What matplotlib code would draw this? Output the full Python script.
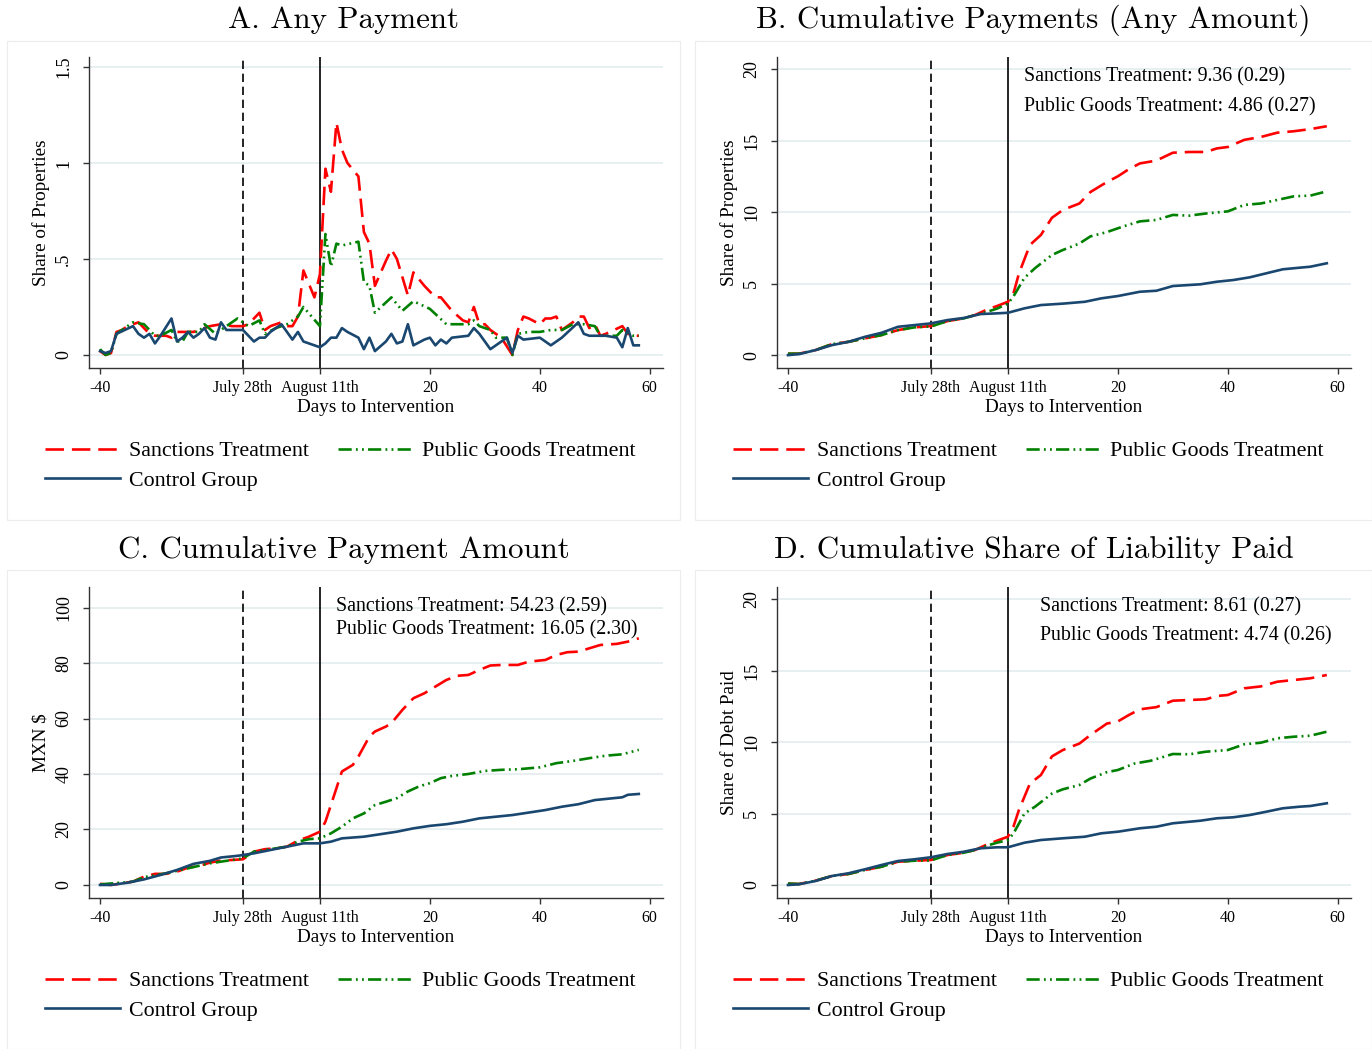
import matplotlib
matplotlib.use('Agg')
import matplotlib.pyplot as plt
from matplotlib.patches import Rectangle

plt.rcParams['font.family'] = ['Liberation Serif', 'DejaVu Serif']

# ---------------- data ----------------
# A. Any Payment
a_sanc_days = [-40, -39, -38, -37, -36, -35, -34, -33, -31, -30, -28, -27, -26, -23, -21, -20, -18, -16, -14, -13,
               -11, -10, -9, -7, -6, -5, -4, -3, -1, 0, 1, 2, 3, 4, 5, 7, 8, 9, 10, 12, 13, 14, 16, 17, 19, 21,
               22, 24, 26, 27, 28, 29, 30, 31, 33, 35, 36, 37, 38, 40, 41, 42, 43, 44, 46, 47, 48, 49, 50, 51,
               52, 55, 56, 57, 58]
a_sanc = [0.02, 0.0, 0.01, 0.12, 0.13, 0.15, 0.16, 0.17, 0.11, 0.10, 0.10, 0.09, 0.12, 0.12, 0.14, 0.15, 0.16,
          0.15, 0.15, 0.16, 0.22, 0.13, 0.15, 0.17, 0.15, 0.15, 0.20, 0.44, 0.30, 0.42, 0.97, 0.85, 1.21, 1.07,
          1.00, 0.93, 0.64, 0.58, 0.36, 0.49, 0.55, 0.50, 0.31, 0.43, 0.36, 0.30, 0.30, 0.23, 0.18, 0.17, 0.25,
          0.16, 0.16, 0.13, 0.09, 0.0, 0.13, 0.20, 0.19, 0.16, 0.19, 0.19, 0.20, 0.13, 0.17, 0.20, 0.20, 0.14,
          0.16, 0.10, 0.11, 0.15, 0.11, 0.10, 0.10]
a_pub_days = [-40, -39, -38, -37, -35, -34, -32, -30, -29, -27, -26, -25, -24, -22, -21, -19, -18, -17, -15, -13,
              -11, -10, -8, -6, -4, -3, 0, 1, 2, 3, 4, 7, 8, 9, 10, 13, 15, 17, 20, 23, 25, 27, 28, 29, 30, 31,
              32, 34, 35, 36, 38, 40, 42, 44, 46, 48, 50, 51, 54, 55, 57, 58]
a_pub = [0.03, 0.0, 0.01, 0.11, 0.15, 0.17, 0.16, 0.10, 0.10, 0.13, 0.07, 0.07, 0.12, 0.12, 0.16, 0.11, 0.13,
         0.15, 0.19, 0.15, 0.18, 0.11, 0.14, 0.16, 0.20, 0.25, 0.15, 0.63, 0.46, 0.58, 0.57, 0.59, 0.38, 0.36,
         0.22, 0.30, 0.23, 0.28, 0.24, 0.16, 0.16, 0.16, 0.18, 0.15, 0.14, 0.13, 0.09, 0.09, 0.0, 0.11, 0.12,
         0.12, 0.13, 0.13, 0.16, 0.16, 0.15, 0.10, 0.10, 0.13, 0.10, 0.10]
a_ctrl_days = [-40, -39, -38, -37, -34, -33, -32, -31, -30, -29, -27, -26, -25, -24, -23, -22, -21, -20, -19, -18,
               -17, -14, -13, -12, -11, -10, -9, -7, -6, -5, -4, -3, 0, 1, 2, 3, 4, 5, 7, 8, 9, 10, 12, 13, 14,
               15, 16, 17, 19, 20, 21, 22, 23, 24, 27, 28, 29, 31, 34, 35, 36, 37, 40, 42, 44, 47, 48, 49, 52, 54,
               55, 56, 57, 58]
a_ctrl = [0.02, 0.01, 0.02, 0.11, 0.15, 0.11, 0.09, 0.11, 0.06, 0.10, 0.19, 0.07, 0.09, 0.12, 0.09, 0.11, 0.14,
          0.09, 0.08, 0.17, 0.13, 0.13, 0.10, 0.07, 0.09, 0.09, 0.12, 0.16, 0.12, 0.08, 0.12, 0.07, 0.04, 0.06,
          0.09, 0.09, 0.14, 0.12, 0.09, 0.03, 0.09, 0.02, 0.07, 0.11, 0.06, 0.07, 0.16, 0.05, 0.08, 0.09, 0.05,
          0.08, 0.06, 0.09, 0.10, 0.14, 0.11, 0.03, 0.09, 0.01, 0.10, 0.08, 0.09, 0.05, 0.09, 0.17, 0.11, 0.10,
          0.10, 0.09, 0.04, 0.14, 0.05, 0.05]

# B. Cumulative Payments (Any Amount)
b_sanc_days = [-40, -38, -35, -32, -29, -26, -23, -20, -17, -14, -11, -8, -6, -4, -2, 0, 1, 2, 4, 6, 8, 10, 13,
               15, 18, 20, 22, 24, 27, 30, 33, 36, 38, 40, 43, 46, 49, 52, 55, 58]
b_sanc = [0.1, 0.1, 0.35, 0.77, 0.93, 1.17, 1.4, 1.75, 1.94, 2.03, 2.38, 2.57, 2.8, 3.15, 3.43, 3.73, 4.3, 5.7,
          7.7, 8.4, 9.6, 10.15, 10.6, 11.4, 12.1, 12.5, 13.0, 13.4, 13.6, 14.15, 14.2, 14.2, 14.45, 14.55, 15.05,
          15.25, 15.55, 15.65, 15.8, 16.0]
b_pub_days = [-40, -38, -35, -32, -29, -26, -23, -20, -17, -14, -11, -8, -6, -4, -2, 0, 1, 3, 5, 8, 10, 13, 15,
              18, 21, 24, 27, 30, 33, 36, 40, 43, 46, 49, 52, 55, 58]
b_pub = [0.1, 0.1, 0.35, 0.77, 0.93, 1.17, 1.4, 1.75, 1.94, 2.0, 2.38, 2.57, 2.8, 3.0, 3.25, 3.6, 4.1, 5.4, 6.1,
         7.0, 7.35, 7.8, 8.3, 8.6, 9.0, 9.35, 9.45, 9.8, 9.75, 9.9, 10.05, 10.5, 10.6, 10.85, 11.1, 11.15, 11.45]
b_ctrl_days = [-40, -38, -35, -32, -29, -26, -23, -20, -17, -14, -11, -8, -5, -2, 0, 3, 6, 10, 14, 17, 20, 24,
               27, 30, 35, 38, 41, 44, 47, 50, 53, 55, 58]
b_ctrl = [0.0, 0.07, 0.35, 0.7, 0.93, 1.28, 1.56, 1.98, 2.1, 2.22, 2.45, 2.6, 2.87, 2.92, 2.96, 3.27, 3.5, 3.6,
          3.73, 3.97, 4.13, 4.43, 4.5, 4.83, 4.95, 5.13, 5.25, 5.44, 5.72, 6.0, 6.11, 6.18, 6.42]

# C. Cumulative Payment Amount
c_sanc_days = [-40, -38, -36, -34, -32, -30, -28, -26, -24, -22, -20, -18, -16, -14, -12, -10, -8, -6, -4, -2,
               0, 1, 2, 4, 6, 7, 9, 10, 12, 13, 15, 17, 19, 21, 23, 25, 27, 29, 31, 33, 36, 38, 41, 43, 45, 47,
               49, 51, 54, 56, 58]
c_sanc = [0.4, 0.0, 0.6, 1.2, 3.0, 4.0, 4.0, 4.8, 6.25, 6.85, 8.05, 8.8, 9.0, 9.25, 12.0, 12.9, 13.2, 13.8, 16.0,
          17.4, 19.2, 22.8, 28.8, 40.9, 43.3, 46.3, 53.5, 55.3, 57.1, 58.3, 63.1, 67.3, 69.1, 71.5, 73.9, 75.4,
          75.7, 77.5, 79.1, 79.3, 79.3, 80.5, 81.1, 82.9, 83.9, 84.1, 85.3, 86.5, 86.9, 87.7, 88.9]
c_pub_days = [-40, -34, -32, -28, -24, -20, -16, -14, -12, -8, -6, -4, -2, 0, 2, 4, 6, 8, 10, 12, 14, 16, 18,
              20, 22, 24, 27, 30, 33, 36, 40, 43, 46, 49, 52, 55, 58]
c_pub = [0.2, 1.2, 2.8, 4.2, 6.0, 7.8, 9.0, 9.6, 12.0, 13.2, 13.8, 15.6, 16.5, 16.8, 18.6, 21.0, 24.0, 25.8,
         28.8, 30.0, 31.3, 33.7, 35.5, 36.7, 38.5, 39.3, 40.0, 41.1, 41.5, 41.7, 42.4, 43.9, 44.7, 45.7, 46.6,
         47.1, 48.7]
c_ctrl_days = [-40, -38, -35, -32, -29, -26, -23, -20, -18, -15, -12, -9, -6, -3, 0, 2, 4, 8, 10, 14, 17, 20,
               23, 26, 29, 32, 35, 38, 41, 44, 47, 50, 53, 55, 56, 58]
c_ctrl = [0.0, 0.0, 0.8, 2.0, 3.6, 5.4, 7.6, 8.7, 9.9, 10.5, 11.4, 12.6, 13.8, 15.0, 15.0, 15.6, 16.8, 17.4,
          18.0, 19.2, 20.4, 21.3, 21.9, 22.8, 24.0, 24.6, 25.2, 26.1, 27.0, 28.2, 29.1, 30.6, 31.2, 31.6, 32.5,
          32.8]

# D. Cumulative Share of Liability Paid
d_sanc_days = [-40, -38, -35, -32, -29, -26, -23, -20, -17, -14, -11, -8, -6, -4, -2, 0, 1, 2, 4, 6, 8, 10, 13,
               15, 18, 20, 22, 24, 27, 30, 33, 36, 38, 40, 43, 46, 49, 52, 55, 58]
d_sanc = [0.1, 0.07, 0.3, 0.63, 0.77, 1.05, 1.28, 1.63, 1.7, 1.75, 2.1, 2.26, 2.45, 2.8, 3.1, 3.38, 4.08, 5.25,
          7.1, 7.7, 9.0, 9.45, 9.9, 10.5, 11.3, 11.45, 11.9, 12.3, 12.45, 12.9, 12.95, 13.0, 13.23, 13.3, 13.77,
          13.9, 14.23, 14.35, 14.47, 14.7]
d_pub_days = [-40, -38, -35, -32, -29, -26, -23, -20, -17, -14, -11, -8, -6, -4, -2, 0, 1, 3, 5, 8, 10, 13, 15,
              18, 20, 23, 26, 30, 33, 36, 40, 43, 46, 49, 52, 55, 58]
d_pub = [0.1, 0.07, 0.3, 0.63, 0.77, 1.05, 1.28, 1.63, 1.7, 1.72, 2.1, 2.26, 2.45, 2.73, 2.96, 3.15, 3.6, 5.0,
         5.5, 6.4, 6.7, 7.0, 7.45, 7.9, 8.05, 8.5, 8.7, 9.17, 9.15, 9.33, 9.45, 9.85, 9.96, 10.27, 10.38, 10.45,
         10.73]
d_ctrl_days = [-40, -38, -35, -32, -29, -26, -23, -20, -17, -14, -11, -8, -5, -2, 0, 3, 6, 10, 14, 17, 20, 24,
               27, 30, 35, 38, 41, 44, 47, 50, 53, 55, 58]
d_ctrl = [0.0, 0.05, 0.28, 0.63, 0.82, 1.1, 1.4, 1.68, 1.8, 1.94, 2.17, 2.33, 2.57, 2.64, 2.64, 2.96, 3.15, 3.27,
          3.38, 3.62, 3.73, 3.97, 4.08, 4.32, 4.5, 4.67, 4.74, 4.9, 5.13, 5.37, 5.48, 5.53, 5.72]

titles = ['A. Any Payment', 'B. Cumulative Payments (Any Amount)',
          'C. Cumulative Payment Amount', 'D. Cumulative Share of Liability Paid']
ylabels = ['Share of Properties', 'Share of Properties', 'MXN \\$', 'Share of Debt Paid']
yticks = [[0, 0.5, 1, 1.5], [0, 5, 10, 15, 20], [0, 20, 40, 60, 80, 100], [0, 5, 10, 15, 20]]
yticklabels = [['0', '.5', '1', '1.5'], ['0', '5', '10', '15', '20'],
               ['0', '20', '40', '60', '80', '100'], ['0', '5', '10', '15', '20']]
ylims = [(-0.068, 1.552), (-0.9, 20.84), (-4.7, 107.4), (-0.91, 20.86)]
xticks = [-40, -14, 0, 20, 40, 60]
xticklabels = ['-40', 'July 28th', 'August 11th', '20', '40', '60']
notes = [None,
         ['Sanctions Treatment: 9.36 (0.29)', 'Public Goods Treatment: 4.86 (0.27)'],
         ['Sanctions Treatment: 54.23 (2.59)', 'Public Goods Treatment: 16.05 (2.30)'],
         ['Sanctions Treatment: 8.61 (0.27)', 'Public Goods Treatment: 4.74 (0.26)']]
note_pos = [None, (0.430, 0.935, 0.839), (0.430, 0.935, 0.861), (0.458, 0.935, 0.842)]

series = [
    [(a_sanc_days, a_sanc), (a_pub_days, a_pub), (a_ctrl_days, a_ctrl)],
    [(b_sanc_days, b_sanc), (b_pub_days, b_pub), (b_ctrl_days, b_ctrl)],
    [(c_sanc_days, c_sanc), (c_pub_days, c_pub), (c_ctrl_days, c_ctrl)],
    [(d_sanc_days, d_sanc), (d_pub_days, d_pub), (d_ctrl_days, d_ctrl)],
]

RED = '#ff0000'
GREEN = '#008000'
NAVY = '#1a476f'
styles = [dict(color=RED, lw=1.9, dashes=(7, 3)),
          dict(color=GREEN, lw=1.9, dashes=(5, 1.6, 0.7, 1.6, 0.7, 1.6)),
          dict(color=NAVY, lw=1.9, ls='-')]
names = ['Sanctions Treatment', 'Public Goods Treatment', 'Control Group']

W, H = 1372, 1049
fig = plt.figure(figsize=(W / 100, H / 100), dpi=100)

# panel positions in pixels: axes left/top, panel box, legend anchor
ax_px = [(89, 57), (777, 57), (89, 587), (777, 587)]
box_px = [(7, 41, 673, 479), (695, 41, 677, 479), (7, 570, 673, 479), (695, 570, 677, 479)]
leg_px = [(45, 441), (733, 441), (45, 971), (733, 971)]

for i in range(4):
    bx, by, bw, bh = box_px[i]
    fig.patches.append(Rectangle((bx / W, 1 - (by + bh) / H), bw / W, bh / H, transform=fig.transFigure,
                                 fill=False, edgecolor='#ececec', lw=0.8))
    l, t = ax_px[i]
    ax = fig.add_axes([l / W, 1 - (t + 311) / H, 574 / W, 311 / H])
    ax.set_xlim(-42, 62.4)
    ax.set_ylim(*ylims[i])
    ax.spines['top'].set_visible(False)
    ax.spines['right'].set_visible(False)
    for s in ['left', 'bottom']:
        ax.spines[s].set_color('#333333')
        ax.spines[s].set_linewidth(1.0)
    ax.set_yticks(yticks[i])
    ax.set_yticklabels(yticklabels[i], rotation=90, va='center', fontsize=13)
    ax.set_xticks(xticks)
    ax.set_xticklabels(xticklabels, fontsize=11.5)
    ax.tick_params(axis='both', direction='out', length=4, width=1, color='#333333')
    ax.tick_params(axis='y', pad=8)
    ax.tick_params(axis='x', pad=5)
    ax.yaxis.grid(True, color='#e8eff1', lw=1.4)
    ax.set_axisbelow(True)
    ax.set_xlabel('Days to Intervention', fontsize=13.8, labelpad=1.5)
    ax.set_ylabel(ylabels[i], fontsize=13.8, labelpad=4)

    ax.axvline(-14, color='black', lw=1.2, dashes=(5, 2.8))
    ax.axvline(0, color='black', lw=1.2)

    handles = []
    for (xd, yd), st, nm in zip(series[i], styles, names):
        ln, = ax.plot(xd, yd, label=nm, solid_joinstyle='round', **st)
        handles.append(ln)

    if notes[i] is not None:
        nx, ny1, ny2 = note_pos[i]
        ax.text(nx, ny1, notes[i][0], transform=ax.transAxes, fontsize=14.3, va='center', ha='left')
        ax.text(nx, ny2, notes[i][1], transform=ax.transAxes, fontsize=14.3, va='center', ha='left')

    lx, ly = leg_px[i]
    ax.legend([handles[0], handles[2], handles[1]], [names[0], names[2], names[1]], ncol=2,
              loc='upper left', bbox_to_anchor=(lx / W, 1 - ly / H), bbox_transform=fig.transFigure,
              frameon=False, fontsize=15.8, handlelength=3.4, handletextpad=0.45, columnspacing=1.3,
              labelspacing=0.42, borderpad=0, borderaxespad=0)

    fig.text((bx + bw / 2) / W, 1 - (20 if i < 2 else 550) / H, titles[i], ha='center', va='center',
             fontfamily='cmr10', fontsize=22.3)

fig.savefig('out.png', dpi=100, facecolor='white')
